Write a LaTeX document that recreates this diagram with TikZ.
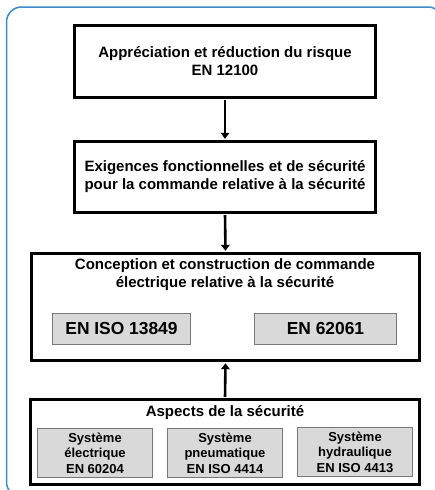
\documentclass[tikz,border=0pt]{standalone}
\usepackage{fontspec}
\setmainfont{Liberation Sans}
\usetikzlibrary{arrows.meta}
\definecolor{frameblue}{RGB}{58,138,206}
\definecolor{boxgray}{RGB}{217,217,217}
\definecolor{bordergray}{RGB}{120,120,120}
\begin{document}
\begin{tikzpicture}[x=1pt,y=-1pt,
  mainbox/.style={draw=black,line width=3pt,fill=white,inner sep=0pt},
  subbox/.style={draw=bordergray,line width=1pt,fill=boxgray,inner sep=0pt,align=center},
  ttl/.style={font=\fontsize{15}{18}\selectfont\bfseries,align=center},
  big/.style={font=\fontsize{17.4}{20}\selectfont\bfseries},
  small/.style={font=\fontsize{13}{15.5}\selectfont\bfseries},
  link/.style={line width=2.6pt,-{Triangle[length=6pt,width=8.5pt]},shorten >=1.2pt,shorten <=1.2pt}
]
\useasboundingbox (0,0) rectangle (435,490);
\begin{scope}
\clip (0,0) rectangle (435,490);
\draw[frameblue,line width=1.5pt,rounded corners=15pt] (6.5,7) rectangle (443,497);
\end{scope}

\node[mainbox,ttl,minimum width=301pt,minimum height=72pt] (b1) at (225,61.5)
  {Appréciation et réduction du risque\\EN 12100};
\node[mainbox,ttl,minimum width=301pt,minimum height=71pt] (b2) at (225,177)
  {Exigences fonctionnelles et de sécurité\\pour la commande relative à la sécurité};
\node[mainbox,minimum width=388pt,minimum height=107pt] (b3) at (225.5,307) {};
\node[ttl] (t3) at (225,275) {Conception et construction de commande\\électrique relative à la sécurité};
\node[subbox,big,minimum width=138pt,minimum height=31pt] (s1) at (121.5,329) {EN ISO 13849};
\node[subbox,big,minimum width=142pt,minimum height=31pt] (s2) at (325.5,329) {EN 62061};

\node[mainbox,minimum width=389pt,minimum height=85pt] (b4) at (225,442) {};
\node[ttl] (t4) at (225,413) {Aspects de la sécurité};
\node[subbox,small,minimum width=115pt,minimum height=49pt] (p1) at (95,453) {Système\\électrique\\EN 60204};
\node[subbox,small,minimum width=115pt,minimum height=49pt] (p2) at (225,453) {Système\\pneumatique\\EN ISO 4414};
\node[subbox,small,minimum width=115pt,minimum height=49pt] (p3) at (355,452) {Système\\hydraulique\\EN ISO 4413};

\draw[link] (b1.south) -- (b2.north);
\draw[link] (b2.south) -- (b3.north);
\draw[link] (b4.north) -- (b3.south);
\end{tikzpicture}
\end{document}
